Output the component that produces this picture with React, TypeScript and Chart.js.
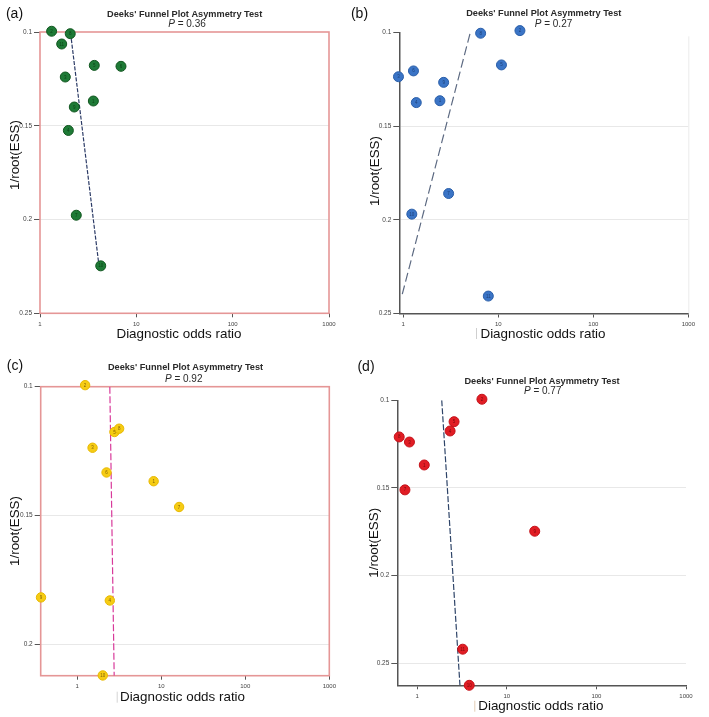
import React, { useEffect, useRef } from 'react';
import { Chart, registerables } from 'chart.js';

Chart.register(...registerables);

const FONT = '"Liberation Sans", Arial, Helvetica, sans-serif';

// ---------- shared tick values ----------
const xTickValues = [1, 10, 100, 1000];
const yTickValues = [0.1, 0.15, 0.2, 0.25];

// ---------- panel (a) ----------
const aDor = [1.32, 2.06, 1.68, 3.66, 6.93, 1.83, 3.58, 2.27, 1.97, 2.38, 4.27];
const aEss = [0.0996, 0.1009, 0.1064, 0.1178, 0.1183, 0.124, 0.1368, 0.14, 0.1525, 0.1977, 0.2247];
const aIds = ['2', '8', '11', '5', '6', '3', '1', '9', '4', '7', '10'];
const aFitDor = [2.08, 4.07];
const aFitEss = [0.1009, 0.2235];
const aP = '0.36';

// ---------- panel (b) ----------
const bDor = [0.89, 1.28, 1.37, 2.66, 2.43, 6.52, 16.9, 10.8, 3.0, 1.23, 7.85];
const bEss = [0.1237, 0.1206, 0.1375, 0.1267, 0.1365, 0.1005, 0.0991, 0.1174, 0.186, 0.197, 0.2407];
const bIds = ['3', '6', '4', '9', '1', '8', '2', '5', '7', '10', '11'];
const bFitDor = [0.976, 5.11];
const bFitEss = [0.2397, 0.0995];
const bP = '0.27';

// ---------- panel (c) ----------
const cDor = [1.24, 2.77, 3.15, 1.52, 2.23, 8.11, 16.3, 0.37, 2.44, 2.01];
const cEss = [0.0994, 0.1176, 0.1163, 0.1237, 0.1333, 0.1367, 0.1467, 0.1818, 0.183, 0.2121];
const cIds = ['2', '5', '8', '3', '6', '1', '7', '9', '4', '10'];
const cFitDor = [2.44, 2.75];
const cFitEss = [0.1, 0.2122];
const cP = '0.92';

// ---------- panel (d) ----------
const dDor = [5.28, 2.58, 2.33, 0.63, 0.82, 1.2, 0.73, 20.5, 3.22, 3.81];
const dEss = [0.0994, 0.1122, 0.1175, 0.1209, 0.1238, 0.1369, 0.1511, 0.1747, 0.242, 0.2626];
const dIds = ['2', '5', '4', '8', '3', '1', '7', '9', '11', '10'];
const dFitDor = [1.88, 3.0];
const dFitEss = [0.1, 0.2624];
const dP = '0.77';

const TITLE = "Deeks' Funnel Plot Asymmetry Test";
const Y_TITLE = '1/root(ESS)';
const X_TITLE = 'Diagnostic odds ratio';

type Pt = { x: number; y: number };

type Panel = {
  letter: string;
  pValue: string;
  dor: number[];
  ess: number[];
  ids: string[];
  fitDor: number[];
  fitEss: number[];
  left: number;
  top: number;
  width: number;
  height: number;
  area: { left: number; top: number; right: number; bottom: number };
  xMin: number;
  xMax: number;
  yMax: number;
  color: string;
  edge: string;
  idColor: string;
  fitColor: string;
  fitDash: number[];
  boxed: boolean;
  radius: number;
  letterPos: Pt;
  titlePos: Pt;
  pPos: Pt;
  yTitlePos: Pt;
  xTitlePos: Pt;
  barX: number | null;
  barColor: string;
  rightLine: boolean;
};

const panels: Panel[] = [
  {
    letter: '(a)', pValue: aP, dor: aDor, ess: aEss, ids: aIds, fitDor: aFitDor, fitEss: aFitEss,
    left: 0, top: 0, width: 350, height: 345,
    area: { left: 40, top: 32, right: 329, bottom: 313.3 },
    xMin: 1, xMax: 1000, yMax: 0.25,
    color: '#1e7a36', edge: '#11561f', idColor: 'rgba(0,30,0,0.6)',
    fitColor: '#2c3b66', fitDash: [4, 1.5], boxed: true, radius: 5,
    letterPos: { x: 14.5, y: 14.5 }, titlePos: { x: 184.7, y: 14.3 }, pPos: { x: 187, y: 24.3 },
    yTitlePos: { x: 15, y: 155 }, xTitlePos: { x: 179, y: 334 },
    barX: null, barColor: '#ccc', rightLine: false,
  },
  {
    letter: '(b)', pValue: bP, dor: bDor, ess: bEss, ids: bIds, fitDor: bFitDor, fitEss: bFitEss,
    left: 350, top: 0, width: 359, height: 345,
    area: { left: 49.3, top: 32.3, right: 338.3, bottom: 313.5 },
    xMin: 0.908, xMax: 1000, yMax: 0.25,
    color: '#3a74c6', edge: '#2a5ea8', idColor: 'rgba(10,30,70,0.6)',
    fitColor: '#5d6a82', fitDash: [9, 4], boxed: false, radius: 5,
    letterPos: { x: 9.5, y: 14 }, titlePos: { x: 193.8, y: 13.3 }, pPos: { x: 203.5, y: 24.3 },
    yTitlePos: { x: 25, y: 171 }, xTitlePos: { x: 193, y: 334 },
    barX: 126, barColor: '#cfcfcf', rightLine: true,
  },
  {
    letter: '(c)', pValue: cP, dor: cDor, ess: cEss, ids: cIds, fitDor: cFitDor, fitEss: cFitEss,
    left: 0, top: 345, width: 350, height: 372,
    area: { left: 40.7, top: 41.7, right: 329.3, bottom: 330.7 },
    xMin: 0.367, xMax: 1000, yMax: 0.2122,
    color: '#f6cc14', edge: '#e7b800', idColor: 'rgba(80,50,0,0.7)',
    fitColor: '#d8399a', fitDash: [7, 2.5], boxed: true, radius: 4.7,
    letterPos: { x: 15, y: 21.5 }, titlePos: { x: 185.5, y: 22.7 }, pPos: { x: 183.7, y: 34 },
    yTitlePos: { x: 15, y: 186 }, xTitlePos: { x: 182.5, y: 352.7 },
    barX: 116.7, barColor: '#d4d4d4', rightLine: false,
  },
  {
    letter: '(d)', pValue: dP, dor: dDor, ess: dEss, ids: dIds, fitDor: dFitDor, fitEss: dFitEss,
    left: 350, top: 345, width: 359, height: 372,
    area: { left: 47.3, top: 55.3, right: 336, bottom: 340.3 },
    xMin: 0.63, xMax: 1000, yMax: 0.2626,
    color: '#e11d24', edge: '#c4121a', idColor: 'rgba(70,0,0,0.65)',
    fitColor: '#2e4468', fitDash: [6, 2], boxed: false, radius: 5,
    letterPos: { x: 16, y: 22.5 }, titlePos: { x: 192, y: 36.7 }, pPos: { x: 192.7, y: 46.7 },
    yTitlePos: { x: 24.3, y: 197.8 }, xTitlePos: { x: 190.8, y: 361.7 },
    barX: 124.3, barColor: '#e3cdb5', rightLine: false,
  },
];

function PanelChart({ p }: { p: Panel }) {
  const ref = useRef<HTMLCanvasElement | null>(null);

  useEffect(() => {
    const canvas = ref.current;
    if (!canvas) return;

    const points = p.dor.map((x, i) => ({ x, y: p.ess[i] }));
    const fit = p.fitDor.map((x, i) => ({ x, y: p.fitEss[i] }));

    const decor = {
      id: 'decor' + p.letter,
      beforeDatasetsDraw(chart: any) {
        const { ctx, chartArea: a } = chart;
        ctx.save();
        if (p.boxed) {
          ctx.strokeStyle = '#e59696';
          ctx.lineWidth = 1.6;
          ctx.strokeRect(a.left, a.top, a.right - a.left, a.bottom - a.top);
        }
        if (p.rightLine) {
          ctx.strokeStyle = '#ececec';
          ctx.lineWidth = 1;
          ctx.beginPath();
          ctx.moveTo(a.right + 0.5, a.top + 4);
          ctx.lineTo(a.right + 0.5, a.bottom);
          ctx.stroke();
        }
        ctx.restore();
      },
      afterDatasetsDraw(chart: any) {
        const { ctx } = chart;
        const meta = chart.getDatasetMeta(1);
        ctx.save();
        ctx.font = '4.5px ' + FONT;
        ctx.fillStyle = p.idColor;
        ctx.textAlign = 'center';
        ctx.textBaseline = 'middle';
        meta.data.forEach((el: any, i: number) => {
          ctx.fillText(p.ids[i], el.x, el.y + 0.3);
        });
        ctx.restore();
      },
      afterDraw(chart: any) {
        const { ctx } = chart;
        ctx.save();
        ctx.textBaseline = 'middle';
        ctx.textAlign = 'center';
        // panel letter
        ctx.fillStyle = '#111';
        ctx.font = '14px ' + FONT;
        ctx.fillText(p.letter, p.letterPos.x, p.letterPos.y);
        // title
        ctx.fillStyle = '#2a2a2a';
        ctx.font = 'bold 9.2px ' + FONT;
        ctx.fillText(TITLE, p.titlePos.x, p.titlePos.y);
        // P line: italic P + rest
        const rest = ' = ' + p.pValue;
        ctx.font = 'italic 10px ' + FONT;
        const wP = ctx.measureText('P').width;
        ctx.font = '10px ' + FONT;
        const wR = ctx.measureText(rest).width;
        const x0 = p.pPos.x - (wP + wR) / 2;
        ctx.textAlign = 'left';
        ctx.font = 'italic 10px ' + FONT;
        ctx.fillText('P', x0, p.pPos.y);
        ctx.font = '10px ' + FONT;
        ctx.fillText(rest, x0 + wP, p.pPos.y);
        // axis titles
        ctx.textAlign = 'center';
        ctx.fillStyle = '#111';
        ctx.font = '13.4px ' + FONT;
        ctx.fillText(X_TITLE, p.xTitlePos.x, p.xTitlePos.y);
        ctx.save();
        ctx.translate(p.yTitlePos.x, p.yTitlePos.y);
        ctx.rotate(-Math.PI / 2);
        ctx.fillText(Y_TITLE, 0, 0);
        ctx.restore();
        if (p.barX !== null) {
          ctx.strokeStyle = p.barColor;
          ctx.lineWidth = 1;
          ctx.beginPath();
          ctx.moveTo(p.barX + 0.5, p.xTitlePos.y - 6);
          ctx.lineTo(p.barX + 0.5, p.xTitlePos.y + 5);
          ctx.stroke();
        }
        ctx.restore();
      },
    };

    const axisColor = '#555';

    const chart = new Chart(canvas, {
      type: 'scatter',
      data: {
        datasets: [
          {
            label: 'fit',
            data: fit,
            showLine: true,
            borderColor: p.fitColor,
            borderWidth: 1.2,
            borderDash: p.fitDash,
            pointRadius: 0,
            fill: false,
            order: 1,
          } as any,
          {
            label: 'studies',
            data: points,
            pointRadius: p.radius,
            pointHoverRadius: p.radius,
            backgroundColor: p.color,
            borderColor: p.edge,
            borderWidth: 1,
            clip: false,
            order: 0,
          } as any,
        ],
      },
      options: {
        responsive: false,
        maintainAspectRatio: false,
        animation: false,
        devicePixelRatio: 1,
        layout: {
          padding: { left: 0, top: p.area.top, right: p.width - p.area.right, bottom: 0 },
        },
        plugins: {
          legend: { display: false },
          tooltip: { enabled: false },
          title: { display: false },
        },
        scales: {
          x: {
            type: 'logarithmic',
            min: p.xMin,
            max: p.xMax,
            afterBuildTicks: (s: any) => {
              s.ticks = xTickValues.map((v) => ({ value: v }));
            },
            afterFit: (s: any) => {
              s.height = p.height - p.area.bottom;
            },
            ticks: {
              autoSkip: false,
              maxRotation: 0,
              padding: 3,
              color: '#444',
              font: { size: 6, family: FONT },
              callback: (v: any) => String(v),
            },
            grid: {
              drawOnChartArea: false,
              drawTicks: true,
              tickLength: 4,
              tickColor: '#555',
              tickWidth: 1,
            },
            border: { display: !p.boxed, color: axisColor, width: 1.5 },
          },
          y: {
            type: 'linear',
            reverse: true,
            min: 0.1,
            max: p.yMax,
            afterBuildTicks: (s: any) => {
              s.ticks = yTickValues.filter((v) => v <= p.yMax + 1e-9).map((v) => ({ value: v }));
            },
            afterFit: (s: any) => {
              s.width = p.area.left;
            },
            ticks: {
              autoSkip: false,
              padding: 2,
              color: '#444',
              font: { size: 6.5, family: FONT },
              callback: (v: any) => String(Number(v)),
            },
            grid: {
              drawTicks: true,
              tickLength: 6,
              tickColor: '#555',
              tickWidth: 1,
              lineWidth: 1,
              color: (c: any) => (c.tick && Math.abs(c.tick.value - 0.1) < 1e-9 ? 'rgba(0,0,0,0)' : '#e8e8e8'),
            },
            border: { display: !p.boxed, color: axisColor, width: 1.5 },
          },
        },
      } as any,
      plugins: [decor as any],
    });

    return () => chart.destroy();
  }, [p]);

  return (
    <canvas
      ref={ref}
      width={p.width}
      height={p.height}
      style={{ position: 'absolute', left: p.left, top: p.top, width: p.width, height: p.height }}
    />
  );
}

export default function App() {
  return (
    <div style={{ position: 'absolute', left: 0, top: 0, width: 709, height: 717, background: '#fff', overflow: 'hidden' }}>
      {panels.map((p) => (
        <PanelChart key={p.letter} p={p} />
      ))}
    </div>
  );
}
